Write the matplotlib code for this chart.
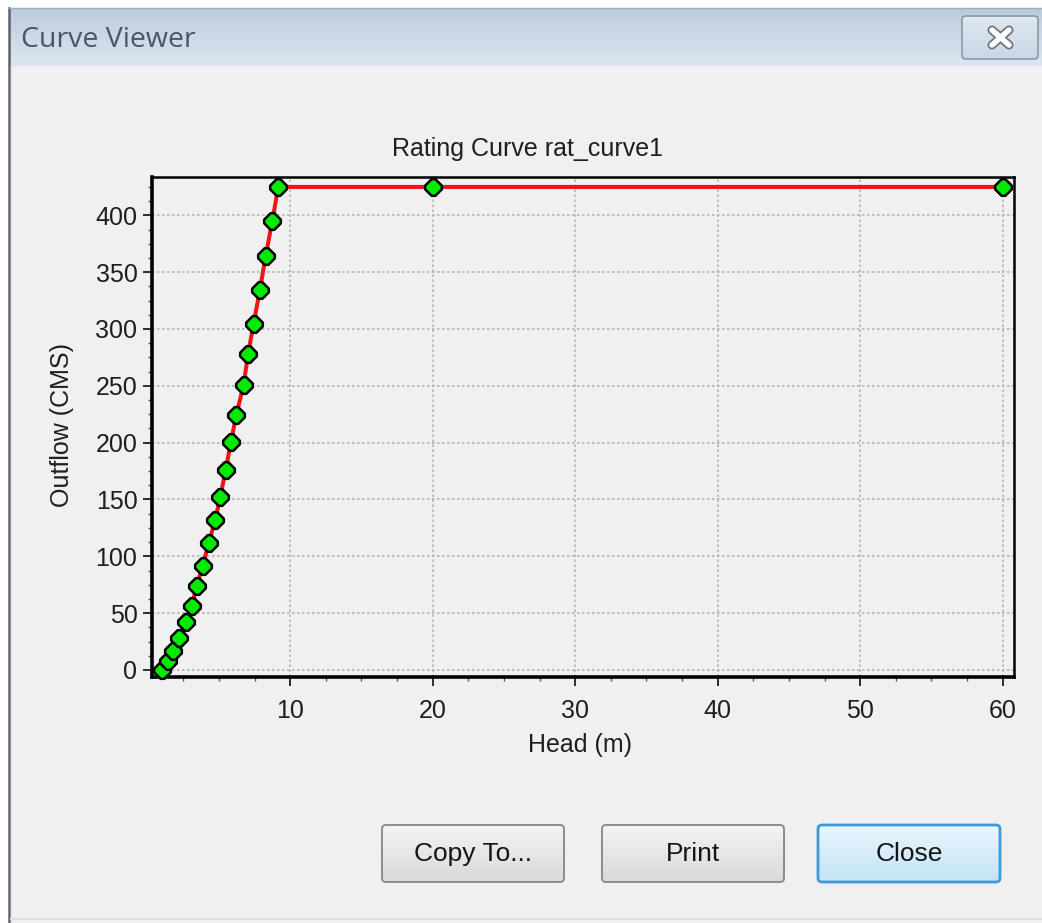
import numpy as np
import matplotlib.pyplot as plt
from matplotlib.colors import LinearSegmentedColormap
from matplotlib.patches import FancyBboxPatch, Rectangle
from matplotlib.path import Path
from matplotlib.ticker import MultipleLocator

plt.rcParams["font.family"] = ["Liberation Sans", "DejaVu Sans"]

# rating curve rat_curve1: head (m) against outflow (CMS)
head = [1.00, 1.40, 1.79, 2.21, 2.68, 3.10, 3.43, 3.87, 4.27, 4.74, 5.09,
        5.47, 5.84, 6.21, 6.73, 7.05, 7.43, 7.87, 8.27, 8.74, 9.16, 20.0, 60.0]
outflow = [0, 7.9, 17, 27.8, 41.9, 56.5, 74.1, 91.7, 111.4, 131.9, 152.4,
           175.8, 200.7, 224, 251, 278.4, 304.8, 334, 364, 394.7, 425, 425, 425]
x_ticks = [10, 20, 30, 40, 50, 60]
y_ticks = [0, 50, 100, 150, 200, 250, 300, 350, 400]
button_labels = ["Copy To...", "Print", "Close"]

W, H = 1042, 923
fig = plt.figure(figsize=(W / 100, H / 100), dpi=100)
fig.patch.set_facecolor("white")

# window chrome drawn in pixel coordinates
bg = fig.add_axes([0, 0, 1, 1], zorder=0)
bg.axis("off")


def gradient(x0, y0, x1, y1, top, bottom, clip=None):
    cmap = LinearSegmentedColormap.from_list("grad", [top, bottom])
    im = bg.imshow(np.linspace(0, 1, 128).reshape(-1, 1), cmap=cmap,
                   aspect="auto", extent=(x0, x1, y1, y0),
                   interpolation="bilinear", zorder=1)
    if clip is not None:
        im.set_clip_path(clip)
    return im


bg.add_patch(Rectangle((9, 8), W - 9, H - 8, facecolor="#f0f0f0",
                       edgecolor="none", zorder=0))
gradient(9, 8, W, 66, "#bccbdc", "#dce6f1")
bg.plot([8.5, 8.5], [8, H], color="#5f6368", lw=1.8, zorder=3)
bg.plot([11, 11], [66, H], color="#dde6ef", lw=1.0, zorder=3)
bg.plot([9, W], [8, 8], color="#a3acb6", lw=1.0, zorder=3)
bg.plot([11, W], [919, 919], color="#d9e3ee", lw=1.5, zorder=3)
bg.text(21, 40, "Curve Viewer", fontsize=20.5, color="#4a5666",
        family=["Open Sans", "DejaVu Sans"], va="center", ha="left", zorder=4)

# title bar close box
xbox = FancyBboxPatch((962, 16), 76, 43, boxstyle="round,pad=0,rounding_size=4",
                      facecolor="none", edgecolor="#8a97a6", lw=1.2, zorder=3)
bg.add_patch(xbox)
gradient(962, 16, 1038, 59, "#e1e9f2", "#c9d6e4", clip=xbox)
for xs, ys in (([992, 1009], [30, 45]), ([992, 1009], [45, 30])):
    bg.plot(xs, ys, color="#6d737a", lw=6.5, solid_capstyle="round", zorder=4)
    bg.plot(xs, ys, color="white", lw=4.0, solid_capstyle="round", zorder=5)

# dialog buttons
button_x = [382, 602, 818]
for label, bx in zip(button_labels, button_x):
    is_default = label == "Close"
    edge = "#3c9ad6" if is_default else "#8c8c8c"
    top, bottom = ("#eaf6fd", "#c3e3f6") if is_default else ("#f4f4f4", "#d9d9d9")
    box = FancyBboxPatch((bx, 825), 182, 57, boxstyle="round,pad=0,rounding_size=4",
                         facecolor="none", edgecolor=edge,
                         lw=2.0 if is_default else 1.4, zorder=3)
    bg.add_patch(box)
    gradient(bx, 825, bx + 182, 882, top, bottom, clip=box)
    bg.text(bx + 91, 854, label, fontsize=19, color="#151515",
            ha="center", va="center", zorder=4)

bg.set_xlim(0, W)
bg.set_ylim(H, 0)

# diamond marker with clipped tips
tip = 0.22
diamond = Path([(1, -tip), (1, tip), (tip, 1), (-tip, 1), (-1, tip), (-1, -tip),
                (-tip, -1), (tip, -1), (1, -tip)], closed=True)

# chart
ax = fig.add_axes([152 / W, 1 - 677 / H, (1014 - 152) / W, (677 - 176.7) / H], zorder=2)
ax.set_facecolor("#f0f0f0")
ax.plot(head, outflow, color="#f01414", lw=2.9, zorder=3)
ax.plot(head, outflow, ls="none", marker=diamond, ms=12, mfc="#00ea00",
        mec="black", mew=1.8, zorder=4, clip_on=False)

ax.set_xlim(0.3, 60.8)
ax.set_ylim(-6.2, 434)
ax.set_xticks(x_ticks)
ax.set_yticks(y_ticks)
ax.xaxis.set_minor_locator(MultipleLocator(2.5))
ax.yaxis.set_minor_locator(MultipleLocator(12.5))
ax.grid(True, which="major", ls=(0, (1.5, 1.5)), color="#b4b4b4", lw=1.2)
ax.set_axisbelow(True)
ax.tick_params(which="major", direction="out", length=6.5, width=1.3,
               labelsize=18, colors="#1e1e1e")
ax.tick_params(axis="x", which="major", pad=9)
ax.tick_params(axis="y", which="major", pad=4)
ax.tick_params(which="minor", direction="out", length=3, width=1.0, color="#555555")
for side, spine in ax.spines.items():
    spine.set_color("black")
    spine.set_linewidth(2.6 if side in ("bottom", "left") else 1.8)

ax.set_xlabel("Head (m)", fontsize=18, color="#1e1e1e", va="center")
ax.set_ylabel("Outflow (CMS)", fontsize=18, color="#1e1e1e", va="center")
ax.xaxis.set_label_coords(0.4965, -0.136)
ax.yaxis.set_label_coords(-0.1044, 0.5037)
fig.text(528 / W, 1 - 149 / H, "Rating Curve rat_curve1", fontsize=18,
         color="#1e1e1e", ha="center", va="center")

fig.savefig("out.png", dpi=100)
